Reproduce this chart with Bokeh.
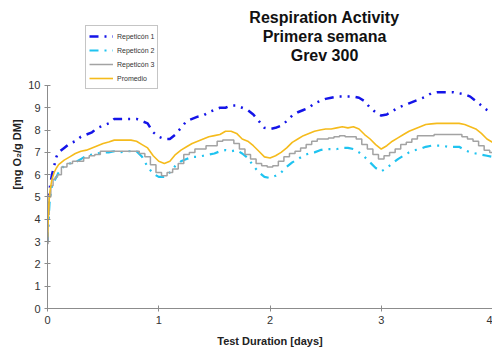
from bokeh.plotting import figure
from bokeh.models import Label, Legend, LegendItem, Range1d, FixedTicker
from bokeh.embed import file_html
from bokeh.resources import INLINE

days = [0, 0.01, 0.02, 0.04, 0.06, 0.08, 0.10,
        0.15, 0.20, 0.25, 0.30, 0.35, 0.40, 0.45, 0.50, 0.55, 0.60, 0.65, 0.70, 0.75, 0.80, 0.85, 0.90, 0.95,
        1.00, 1.05, 1.10, 1.15, 1.20, 1.25, 1.30, 1.35, 1.40, 1.45, 1.50, 1.55, 1.60, 1.65, 1.70, 1.75, 1.80, 1.85, 1.90, 1.95,
        2.00, 2.05, 2.10, 2.15, 2.20, 2.25, 2.30, 2.35, 2.40, 2.45, 2.50, 2.55, 2.60, 2.65, 2.70, 2.75, 2.80, 2.85, 2.90, 2.95,
        3.00, 3.05, 3.10, 3.15, 3.20, 3.25, 3.30, 3.35, 3.40, 3.45, 3.50, 3.55, 3.60, 3.65, 3.70, 3.75, 3.80, 3.85, 3.90, 3.95,
        4.00]

rep1 = [3.0, 4.6, 5.4, 6.0, 6.4, 6.8, 7.0,
        7.2, 7.4, 7.5, 7.7, 7.8, 7.9, 8.1, 8.2, 8.3, 8.5, 8.5, 8.5, 8.5, 8.5, 8.4, 8.3, 7.9,
        7.7, 7.6, 7.6, 7.8, 8.1, 8.4, 8.5, 8.6, 8.65, 8.8, 8.9, 9.0, 9.0, 9.1, 9.1, 9.0, 8.9, 8.7, 8.4, 8.1,
        8.05, 8.1, 8.2, 8.4, 8.65, 8.8, 8.9, 9.0, 9.2, 9.3, 9.4, 9.45, 9.5, 9.5, 9.5, 9.5, 9.45, 9.3, 9.0, 8.8,
        8.65, 8.7, 8.85, 9.0, 9.1, 9.2, 9.3, 9.4, 9.5, 9.65, 9.7, 9.7, 9.7, 9.7, 9.65, 9.6, 9.5, 9.3, 9.1, 8.9,
        8.75]

rep2 = [3.0, 4.0, 4.9, 5.5, 5.7, 5.9, 6.1,
        6.4, 6.5, 6.55, 6.7, 6.85, 6.9, 6.95, 7.0, 7.0, 7.05, 7.0, 7.05, 7.05, 7.05, 6.8, 6.35, 6.05,
        5.9, 5.9, 6.1, 6.4, 6.6, 6.7, 6.8, 6.8, 6.85, 6.9, 6.95, 7.05, 7.1, 7.05, 7.1, 6.95, 6.75, 6.4, 6.1, 5.9,
        5.85, 5.95, 6.1, 6.35, 6.55, 6.7, 6.85, 6.95, 7.0, 7.1, 7.15, 7.15, 7.15, 7.2, 7.2, 7.15, 7.0, 6.8, 6.55, 6.3,
        6.15, 6.3, 6.5, 6.7, 6.85, 7.0, 7.1, 7.15, 7.25, 7.3, 7.3, 7.3, 7.25, 7.25, 7.25, 7.1, 7.0, 6.95, 6.9, 6.85,
        6.8]

rep3 = [2.9, 4.2, 5.0, 5.5, 5.8, 5.9, 6.0,
        6.35, 6.5, 6.6, 6.6, 6.75, 6.85, 6.9, 7.05, 7.05, 7.05, 7.05, 7.05, 7.05, 7.05, 6.95, 6.8, 6.45,
        6.1, 5.95, 6.1, 6.25, 6.5, 6.9, 7.0, 7.15, 7.15, 7.3, 7.3, 7.5, 7.55, 7.55, 7.4, 7.15, 6.9, 6.7, 6.5, 6.4,
        6.35, 6.4, 6.6, 6.8, 6.95, 7.05, 7.2, 7.35, 7.5, 7.6, 7.6, 7.65, 7.7, 7.75, 7.7, 7.7, 7.6, 7.35, 7.15, 6.9,
        6.7, 6.85, 7.0, 7.15, 7.35, 7.45, 7.6, 7.75, 7.75, 7.75, 7.8, 7.8, 7.8, 7.8, 7.8, 7.7, 7.6, 7.5, 7.3, 7.1,
        7.0]

promedio = [3.2, 4.5, 5.2, 5.8, 6.1, 6.3, 6.45,
            6.65, 6.8, 6.95, 7.05, 7.1, 7.2, 7.3, 7.4, 7.47, 7.55, 7.55, 7.55, 7.55, 7.5, 7.35, 7.2, 6.85,
            6.6, 6.5, 6.6, 6.9, 7.1, 7.25, 7.4, 7.5, 7.6, 7.7, 7.75, 7.8, 7.95, 7.95, 7.85, 7.6, 7.5, 7.3, 7.05, 6.8,
            6.75, 6.85, 7.0, 7.2, 7.45, 7.6, 7.75, 7.85, 7.95, 8.0, 8.05, 8.05, 8.1, 8.15, 8.1, 8.15, 8.05, 7.8, 7.6, 7.35,
            7.15, 7.3, 7.5, 7.65, 7.8, 7.95, 8.05, 8.15, 8.25, 8.28, 8.3, 8.3, 8.3, 8.3, 8.3, 8.25, 8.15, 8.05, 7.85, 7.6,
            7.45]

series_names = ["Repeticón 1", "Repeticón 2", "Repeticón 3", "Promedio"]
x_ticks = [0, 1, 2, 3, 4]
y_ticks = list(range(0, 11))
title_lines = ["Respiration Activity", "Primera semana", "Grev 300"]

# frame reaches the top of the canvas so that title and legend (inside frame) are not clipped
p = figure(width=492, height=354, output_backend="svg", toolbar_location=None,
           x_range=Range1d(0, 4), y_range=Range1d(0, 13.81),
           min_border_left=47, min_border_right=0, min_border_top=0, min_border_bottom=46)
p.outline_line_color = None
p.xgrid.visible = False
p.ygrid.visible = False
p.background_fill_color = "white"
p.border_fill_color = "white"

FONT = "Liberation Sans"
for ax in (p.xaxis[0], p.yaxis[0]):
    ax.axis_line_color = "#8c8c8c"
    ax.major_tick_line_color = "#8c8c8c"
    ax.minor_tick_line_color = None
    ax.major_tick_in = 3
    ax.major_tick_out = 3
    ax.major_label_text_font = FONT
    ax.major_label_text_font_size = "11px"
    ax.major_label_text_color = "#333333"
    ax.axis_label_text_font = FONT
    ax.axis_label_text_font_style = "bold"
    ax.axis_label_text_font_size = "11px"
    ax.axis_label_text_color = "#222222"
    ax.major_label_standoff = 4

p.yaxis.bounds = (0, 10)
p.xaxis.ticker = FixedTicker(ticks=x_ticks)
p.yaxis.ticker = FixedTicker(ticks=y_ticks)
p.xaxis.axis_label = "Test Duration [days]"
p.yaxis.axis_label = "[mg O₂/g DM]"
p.xaxis.axis_label_standoff = 8
p.yaxis.axis_label_standoff = 2

r1 = p.line(days, rep1, line_color="#1414e8", line_width=2.5, line_dash="9 6 2 6 2 6")
r2 = p.line(days, rep2, line_color="#1fc3f0", line_width=2.2, line_dash="9 6 2 6 2 6")
r3 = p.step(days, rep3, line_color="#a3a3a3", line_width=1.5, mode="center")
r4 = p.line(days, promedio, line_color="#f5bb1c", line_width=1.6)

legend = Legend(items=[LegendItem(label=series_names[0], renderers=[r1]),
                       LegendItem(label=series_names[1], renderers=[r2]),
                       LegendItem(label=series_names[2], renderers=[r3]),
                       LegendItem(label=series_names[3], renderers=[r4])],
                location=(38, 219), margin=0, padding=3, spacing=0,
                glyph_width=24, glyph_height=14, label_height=14,
                label_standoff=4, label_text_font=FONT, label_text_font_size="7px",
                label_text_color="#333333",
                border_line_color="#8c8c8c", border_line_width=1,
                background_fill_alpha=1)
p.add_layout(legend, "center")

for txt, yy in zip(title_lines, [291, 272, 253]):
    p.add_layout(Label(x=277, y=yy, x_units="screen", y_units="screen", text=txt,
                       text_font=FONT, text_font_style="bold", text_font_size="16px",
                       text_align="center", text_baseline="middle", text_color="#111111"))

open("out.html", "w").write(file_html(p, INLINE))
